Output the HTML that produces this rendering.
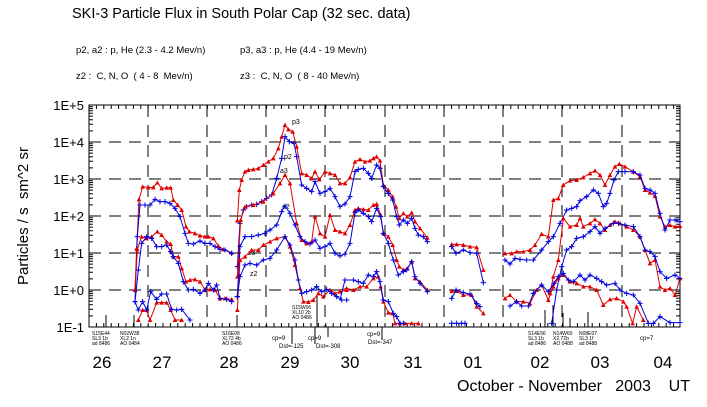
<!DOCTYPE html>
<html><head><meta charset="utf-8"><style>
html,body{margin:0;padding:0;background:#fff;}
svg{display:block;font-family:"Liberation Sans",sans-serif;}
text{white-space:pre;}
</style></head><body>
<svg width="707" height="407" viewBox="0 0 707 407" xmlns="http://www.w3.org/2000/svg">
<defs>
<marker id="pl" markerUnits="userSpaceOnUse" markerWidth="16" markerHeight="16" refX="8" refY="8" viewBox="0 0 16 16"><path d="M8 0V16M0 8H16" stroke="#0000e0" stroke-width="3" fill="none"/></marker>
<marker id="tr" markerUnits="userSpaceOnUse" markerWidth="16" markerHeight="16" refX="8" refY="8" viewBox="0 0 16 16"><path d="M8 1L15 14H1Z" fill="#e00000"/></marker>
</defs>
<rect width="707" height="407" fill="#fff"/>
<text x="72" y="18" font-size="14.5" fill="#000">SKI-3 Particle Flux in South Polar Cap (32 sec. data)</text>
<text x="76" y="53" font-size="9.5">p2, a2 : p, He (2.3 - 4.2 Mev/n)</text>
<text x="240" y="53" font-size="9.5">p3, a3 : p, He (4.4 - 19 Mev/n)</text>
<text x="76" y="79" font-size="9.5">z2 :  C, N, O  ( 4 - 8  Mev/n)</text>
<text x="240" y="79" font-size="9.5">z3 :  C, N, O  ( 8 - 40 Mev/n)</text>

<g font-size="13" text-anchor="end">
<text x="84" y="110">1E+5</text><text x="84" y="147">1E+4</text><text x="84" y="184">1E+3</text>
<text x="84" y="221">1E+2</text><text x="84" y="258">1E+1</text><text x="84" y="295">1E+0</text><text x="84" y="332">1E-1</text>
</g>
<text transform="translate(28,216) rotate(-90)" font-size="15" text-anchor="middle">Particles / s  sm^2 sr</text>

<rect x="89" y="105" width="591" height="222" fill="none" stroke="#000" stroke-width="1"/>
<g stroke="#000" stroke-width="1" stroke-dasharray="12,8">
<path d="M89 142H680M89 179H680M89 216H680M89 253H680M89 290H680"/>
<path d="M148 105V327M207 105V327M266 105V327M325 105V327M385 105V327M444 105V327M503 105V327M562 105V327M622 105V327"/>
</g>
<g stroke="#000" stroke-width="1" id="ticks"></g>

<g font-size="17" text-anchor="middle">
<text x="102" y="368">26</text><text x="162" y="368">27</text><text x="229" y="368">28</text>
<text x="290" y="368">29</text><text x="350" y="368">30</text><text x="413" y="368">31</text>
<text x="473" y="368">01</text><text x="540" y="368">02</text><text x="600" y="368">03</text><text x="663" y="368">04</text>
</g>
<text x="457" y="391" font-size="16">October - November   2003    UT</text>

<g font-size="5" fill="#000">
<text x="92" y="335">S15E44</text><text x="92" y="340">SL3 1b</text><text x="92" y="345">ad 8486</text>
<text x="120" y="335">N02W38</text><text x="120" y="340">XL2 1n</text><text x="120" y="345">AO 0484</text>
<text x="222" y="335">S16E08</text><text x="222" y="340">XL72 4b</text><text x="222" y="345">AO 0486</text>
<text x="292" y="309">S15W06</text><text x="292" y="314">XL10 2b</text><text x="292" y="319">AO 0486</text>
<text x="272" y="340" font-size="6">cp=9</text><text x="279" y="348" font-size="6">Dst=-125</text>
<text x="308" y="340" font-size="6">cp=9</text><text x="316" y="348" font-size="6">Dst=-308</text>
<text x="367" y="336" font-size="6">cp=9</text><text x="368" y="344" font-size="6">Dst=-347</text>
<text x="528" y="335">S14E56</text><text x="528" y="340">SL3 1b</text><text x="528" y="345">ad 8486</text>
<text x="553" y="335">N14W60</text><text x="553" y="340">X2.72b</text><text x="553" y="345">AO 0488</text>
<text x="579" y="335">N08E07</text><text x="579" y="340">SL3 1f</text><text x="579" y="345">ad 8488</text>
<text x="640" y="340" font-size="6">cp=7</text>
</g>
<g stroke="#000" stroke-width="1">
<path d="M292 327V344M315 327V344M328 327V337M382 327V340M317 296V327M545 310V327M553 305V327M563 313V327M570 318V327M588 312V327"/>
</g>

<g font-size="7" fill="#000">
<text x="292" y="124">p3</text><text x="284" y="159">p2</text><text x="280" y="173">a3</text><text x="282" y="209">a2</text>
<text x="248" y="255">z3</text><text x="250" y="276">z2</text>
</g>

<g transform="translate(0,90) scale(0.3333333)" fill="none">
<polyline stroke="#e00000" stroke-width="3" marker-start="url(#tr)" marker-mid="url(#tr)" marker-end="url(#tr)" points="405,600 410,475 417,328 428,290 445,292 460,292 472,278 485,295 500,293 512,293 520,330 533,345 545,360 558,410 568,425 585,430 600,437 615,440 625,440 640,445 655,468 670,478 695,488"/>
<polyline stroke="#e00000" stroke-width="3" marker-start="url(#tr)" marker-mid="url(#tr)" marker-end="url(#tr)" points="712,392 718,300 725,270 735,245 745,240 760,238 775,235 790,225 805,215 820,205 835,175 845,140 855,105 865,118 878,125 890,170 905,250 920,255 935,265 945,245 958,268 975,245 990,250 1005,255 1020,280 1035,280 1050,262"/>
<polyline stroke="#0000e0" stroke-width="3" marker-start="url(#pl)" marker-mid="url(#pl)" marker-end="url(#pl)" points="405,635 412,440 420,345 435,345 450,345 465,328 480,335 495,335 510,340 525,355 540,380 555,430 565,460 580,462 600,453 615,460 630,460 645,470 660,478 675,480 695,490"/>
<polyline stroke="#0000e0" stroke-width="3" marker-start="url(#pl)" marker-mid="url(#pl)" marker-end="url(#pl)" points="712,530 720,400 730,360 740,350 755,345 770,343 785,335 800,325 815,315 830,265 845,205 855,140 868,155 882,160 890,200 905,285 920,295 935,305 945,275 960,310 975,305 990,295 1005,320 1020,350 1035,342 1050,320"/>
<polyline stroke="#e00000" stroke-width="3" marker-start="url(#tr)" marker-mid="url(#tr)" marker-end="url(#tr)" points="405,600 412,478 425,440 440,445 455,440 472,425 485,435 500,455 512,462 520,500 535,500 545,535 558,575 570,570 585,568 600,575 615,600 630,598 645,600 660,625 675,625 695,628"/>
<polyline stroke="#e00000" stroke-width="3" marker-start="url(#tr)" marker-mid="url(#tr)" marker-end="url(#tr)" points="712,560 722,390 735,350 760,345 790,335 820,310 840,280 855,255 870,280 890,400 905,450 920,460 935,455 945,380 960,430 975,440 990,375 1005,420 1020,425 1035,430 1050,405"/>
<polyline stroke="#0000e0" stroke-width="3" marker-start="url(#pl)" marker-mid="url(#pl)" marker-end="url(#pl)" points="405,635 415,540 425,460 440,440 455,445 470,470 485,470 500,465 512,485 520,500 535,520 550,575 565,600 580,598 600,610 615,600 625,580 640,600 650,585 660,625 680,628 695,635"/>
<polyline stroke="#0000e0" stroke-width="3" marker-start="url(#pl)" marker-mid="url(#pl)" marker-end="url(#pl)" points="712,620 720,470 735,440 755,440 775,435 795,430 810,420 830,405 845,365 855,348 870,370 885,405 900,440 915,455 930,462 945,450 960,475 975,470 990,460 1005,490 1020,498 1035,492 1050,460"/>
<polyline stroke="#e00000" stroke-width="3" marker-start="url(#tr)" marker-mid="url(#tr)" marker-end="url(#tr)" points="415,690 428,660 440,660 450,690 470,638 485,638 500,638 512,660 525,690 545,690"/>
<polyline stroke="#e00000" stroke-width="3" marker-start="url(#tr)" marker-mid="url(#tr)" marker-end="url(#tr)" points="712,660 720,510 735,500 755,480 775,480 790,465 810,455 830,445 855,440 870,470 885,525 900,595 910,635 925,636 940,630 955,610 970,620 990,600 1005,610 1020,605 1040,600"/>
<polyline stroke="#0000e0" stroke-width="3" marker-start="url(#pl)" marker-mid="url(#pl)" marker-end="url(#pl)" points="405,635 415,660 428,635 440,660 452,605 470,628 485,612 500,612 515,658 530,660 545,658 570,690"/>
<polyline stroke="#0000e0" stroke-width="3" marker-start="url(#pl)" marker-mid="url(#pl)" marker-end="url(#pl)" points="712,620 720,560 735,525 750,520 770,525 790,510 810,505 830,480 855,440 870,465 885,510 895,570 905,610 920,605 935,600 950,590 965,605 980,598 995,610 1010,620 1025,630 1040,630"/>
</g>

<g transform="translate(350,90) scale(0.3333333)" fill="none">
<polyline stroke="#e00000" stroke-width="3" marker-mid="url(#tr)" marker-end="url(#tr)" points="0,262 15,215 30,208 45,215 60,212 70,205 80,200 90,212 100,285 115,300 128,320 138,350 148,385 160,370 172,380 185,368 195,395 210,415 232,443"/>
<polyline stroke="#e00000" stroke-width="3" marker-start="url(#tr)" marker-mid="url(#tr)" marker-end="url(#tr)" points="305,463 320,463 340,465 360,470 380,472 400,540"/>
<polyline stroke="#e00000" stroke-width="3" marker-start="url(#tr)" marker-mid="url(#tr)" marker-end="url(#tr)" points="465,490 485,490 500,485 520,485 540,480 555,465 575,432 595,440 610,330 625,325 640,285 660,272 680,270 700,262 720,250 735,242 750,255 765,285 780,255 795,230 808,222 825,230 850,245 870,260 885,300 900,308 915,318 930,380 945,410 960,405 975,410 990,408"/>
<polyline stroke="#0000e0" stroke-width="3" marker-mid="url(#pl)" marker-end="url(#pl)" points="0,320 15,245 25,238 40,235 55,250 65,265 80,225 90,235 100,290 115,310 128,330 140,380 148,405 160,390 172,400 185,385 195,415 205,435 220,440 232,455"/>
<polyline stroke="#0000e0" stroke-width="3" marker-start="url(#pl)" marker-mid="url(#pl)" marker-end="url(#pl)" points="305,470 318,490 340,480 360,488 380,490 400,578"/>
<polyline stroke="#0000e0" stroke-width="3" marker-start="url(#pl)" marker-mid="url(#pl)" marker-end="url(#pl)" points="465,510 480,522 495,505 510,508 530,510 550,510 575,480 595,455 610,440 630,400 650,360 665,355 680,350 690,332 710,320 730,300 745,310 760,350 770,340 780,310 792,270 805,245 825,245 850,245 870,255 885,295 900,300 915,310 930,370 945,420 960,390 975,390 990,395"/>
<polyline stroke="#e00000" stroke-width="3" marker-mid="url(#tr)" marker-end="url(#tr)" points="0,405 15,360 25,355 40,358 55,360 70,345 80,342 92,375 100,430 115,440 128,465 140,510 148,530 160,540 172,535 185,515 195,565 210,575 232,600"/>
<polyline stroke="#e00000" stroke-width="3" marker-start="url(#tr)" marker-mid="url(#tr)" marker-end="url(#tr)" points="305,603 320,603 340,615 365,615 380,650 400,670"/>
<polyline stroke="#e00000" stroke-width="3" marker-start="url(#tr)" marker-mid="url(#tr)" marker-end="url(#tr)" points="600,610 610,560 625,510 640,385 660,410 680,405 690,385 700,410 720,400 735,388 750,400 765,420 780,405 795,395 810,400 830,410 850,420 870,440 885,480 900,520 915,510 930,590 945,600 960,595 975,615 990,565"/>
<polyline stroke="#0000e0" stroke-width="3" marker-mid="url(#pl)" marker-end="url(#pl)" points="0,460 15,368 25,360 40,370 55,380 65,395 80,355 92,380 100,430 115,460 130,510 145,555 160,545 170,540 185,515 195,560 210,580 232,605"/>
<polyline stroke="#0000e0" stroke-width="3" marker-start="url(#pl)" marker-mid="url(#pl)" marker-end="url(#pl)" points="305,625 318,600 340,608 360,612 380,640 390,650"/>
<polyline stroke="#0000e0" stroke-width="3" marker-start="url(#pl)" marker-mid="url(#pl)" marker-end="url(#pl)" points="605,700 620,600 635,530 650,480 665,470 680,445 700,440 720,425 735,410 750,430 765,415 790,400 805,400 825,405 850,410 870,440 885,480 900,485 915,500 930,545 950,565 975,555 990,565"/>
<polyline stroke="#e00000" stroke-width="3" marker-mid="url(#tr)" marker-end="url(#tr)" points="-30,600 -10,595 10,600 30,590 50,590 70,565 85,560 92,590 100,635 115,668 128,670 135,700 150,700 165,700 185,700 205,700"/>
<polyline stroke="#e00000" stroke-width="3" marker-start="url(#tr)" marker-mid="url(#tr)" marker-end="url(#tr)" points="465,625 480,615 500,635 520,635 540,640 560,600 575,585 595,630 610,590 625,565 640,555 660,575 680,580 700,590 720,590 740,600 760,645 780,628 800,625 820,635 830,650 848,700 860,650 880,690"/>
<polyline stroke="#0000e0" stroke-width="3" marker-mid="url(#pl)" marker-end="url(#pl)" points="-30,630 -15,570 10,570 25,575 40,580 55,555 70,560 80,545 90,575 100,630 115,635 130,670 140,680 150,700 160,700"/>
<polyline stroke="#0000e0" stroke-width="3" marker-start="url(#pl)" marker-mid="url(#pl)" marker-end="url(#pl)" points="305,700 320,700 335,700 345,700"/>
<polyline stroke="#0000e0" stroke-width="3" marker-start="url(#pl)" marker-mid="url(#pl)" marker-end="url(#pl)" points="480,648 500,635 515,648 535,648 550,610 575,585 595,605 612,580 625,560 640,550 655,570 670,575 690,555 705,570 720,555 740,565 755,575 770,585 795,580 810,600 830,610 850,615 870,640 895,700 910,700 930,680 960,698 990,698"/>
</g>

<script>
(function(){
var g=document.getElementById('ticks'),d='';
for(var x=89;x<=680;x+=7.4){d+='M'+x.toFixed(1)+' 105v4M'+x.toFixed(1)+' 327v-4';}
var L=[106,134,237,317];
L.forEach(function(x){d+='M'+x+' 327v-12';});
for(var k=0;k<6;k++){var y0=105+37*k;for(var m=2;m<=9;m++){var y=y0+37*(1-Math.log10(m));d+='M89 '+y.toFixed(1)+'h4M680 '+y.toFixed(1)+'h-4';}}
for(var k=0;k<7;k++){var y=105+37*k;d+='M89 '+y+'h7M680 '+y+'h-7';}
var p=document.createElementNS('http://www.w3.org/2000/svg','path');p.setAttribute('d',d);g.appendChild(p);
})();
</script>
</svg>
</body></html>
